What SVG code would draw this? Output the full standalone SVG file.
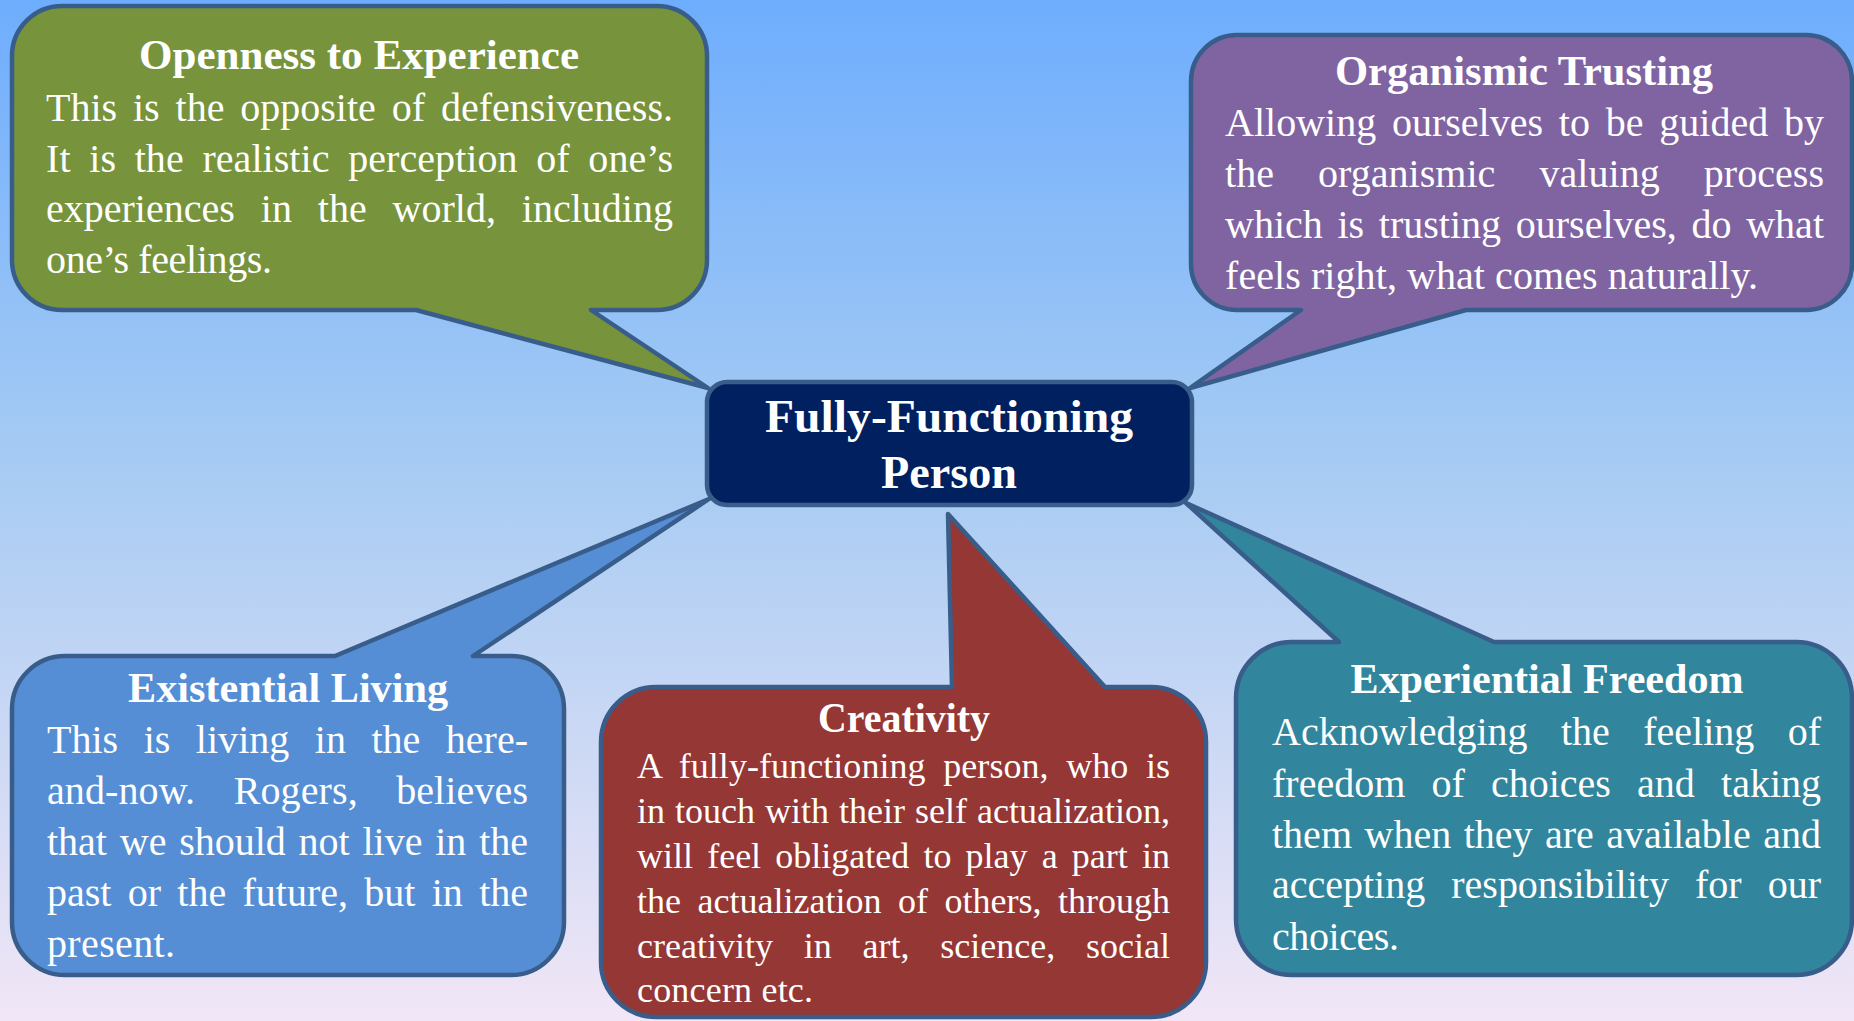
<svg xmlns="http://www.w3.org/2000/svg" width="1854" height="1021" viewBox="0 0 1854 1021">
  <defs>
    <linearGradient id="bg" x1="0" y1="0" x2="0" y2="1">
      <stop offset="0" stop-color="#6EADFD"/>
      <stop offset="0.45" stop-color="#A6CBF3"/>
      <stop offset="1" stop-color="#F1E6F6"/>
    </linearGradient>
  </defs>
  <style>
    .callout { stroke: #385D8A; stroke-width: 4.5; stroke-linejoin: round; }
    .title { font-family: "Liberation Serif", "Times New Roman", serif; font-weight: bold; font-size: 42px; fill: #FFFFFF; text-anchor: middle; }
    .body { font-family: "Liberation Serif", "Times New Roman", serif; font-size: 40px; fill: #FFFFFF; }
    .small { font-size: 36px; }
    .center { font-family: "Liberation Serif", "Times New Roman", serif; font-weight: bold; font-size: 47px; fill: #FFFFFF; text-anchor: middle; }
  </style>

  <rect x="0" y="0" width="1854" height="1021" fill="url(#bg)"/>

  <!-- speech-bubble callouts: each tail is part of the bubble outline and points at the central box -->
  <g id="openness">
    <path class="callout" fill="#77933C" d="M62,6 H657 A50,50 0 0 1 707,56 V260 A50,50 0 0 1 657,310 H591 L708,388 L416,310 H62 A50,50 0 0 1 12,260 V56 A50,50 0 0 1 62,6 Z"/>
    <text class="title" x="359" y="69" textLength="440" lengthAdjust="spacingAndGlyphs">Openness to Experience</text>
    <text class="body" x="46" y="121" style="word-spacing:5.9px" textLength="627">This is the opposite of defensiveness.</text>
    <text class="body" x="46" y="172" style="word-spacing:8.6px" textLength="627">It is the realistic perception of one’s</text>
    <text class="body" x="46" y="222" style="word-spacing:15.9px" textLength="627">experiences in the world, including</text>
    <text class="body" x="46" y="273" textLength="226">one’s feelings.</text>
  </g>

  <g id="organismic">
    <path class="callout" fill="#8064A2" d="M1237,35 H1806 A46,46 0 0 1 1852,81 V264 A46,46 0 0 1 1806,310 H1466 L1190,388 L1301,310 H1237 A46,46 0 0 1 1191,264 V81 A46,46 0 0 1 1237,35 Z"/>
    <text class="title" x="1524" y="85" textLength="378" lengthAdjust="spacingAndGlyphs">Organismic Trusting</text>
    <text class="body" x="1225" y="136" style="word-spacing:5.8px" textLength="599">Allowing ourselves to be guided by</text>
    <text class="body" x="1225" y="187" style="word-spacing:34.1px" textLength="599">the organismic valuing process</text>
    <text class="body" x="1225" y="238" style="word-spacing:4.7px" textLength="599">which is trusting ourselves, do what</text>
    <text class="body" x="1225" y="289" textLength="533">feels right, what comes naturally.</text>
  </g>

  <g id="existential">
    <path class="callout" fill="#558ED5" d="M65,656 H335 L709,499 L473,656 H511 A53,53 0 0 1 564,709 V922 A53,53 0 0 1 511,975 H65 A53,53 0 0 1 12,922 V709 A53,53 0 0 1 65,656 Z"/>
    <text class="title" x="288" y="702" textLength="320" lengthAdjust="spacingAndGlyphs">Existential Living</text>
    <text class="body" x="47" y="753" style="word-spacing:15.5px" textLength="481">This is living in the here-</text>
    <text class="body" x="47" y="804" style="word-spacing:28.3px" textLength="481">and-now. Rogers, believes</text>
    <text class="body" x="47" y="855" style="word-spacing:2.8px" textLength="481">that we should not live in the</text>
    <text class="body" x="47" y="906" style="word-spacing:6.3px" textLength="481">past or the future, but in the</text>
    <text class="body" x="47" y="957" textLength="128">present.</text>
  </g>

  <g id="creativity">
    <path class="callout" fill="#953735" d="M656,687 H952 L948,514 L1105,687 H1151 A55,55 0 0 1 1206,742 V962 A55,55 0 0 1 1151,1017 H656 A55,55 0 0 1 601,962 V742 A55,55 0 0 1 656,687 Z"/>
    <text class="title" x="904" y="732" textLength="172" lengthAdjust="spacingAndGlyphs">Creativity</text>
    <text class="body small" x="637" y="778" style="word-spacing:8.5px" textLength="533">A fully-functioning person, who is</text>
    <text class="body small" x="637" y="823" style="word-spacing:1px" textLength="533">in touch with their self actualization,</text>
    <text class="body small" x="637" y="868" style="word-spacing:5.2px" textLength="533">will feel obligated to play a part in</text>
    <text class="body small" x="637" y="913" style="word-spacing:7.5px" textLength="533">the actualization of others, through</text>
    <text class="body small" x="637" y="958" style="word-spacing:21.8px" textLength="533">creativity in art, science, social</text>
    <text class="body small" x="637" y="1002" textLength="176">concern etc.</text>
  </g>

  <g id="experiential">
    <path class="callout" fill="#31859C" d="M1292,642 H1339 L1186,503 L1494,642 H1796 A56,56 0 0 1 1852,698 V919 A56,56 0 0 1 1796,975 H1292 A56,56 0 0 1 1236,919 V698 A56,56 0 0 1 1292,642 Z"/>
    <text class="title" x="1547" y="693" textLength="393" lengthAdjust="spacingAndGlyphs">Experiential Freedom</text>
    <text class="body" x="1272" y="745" style="word-spacing:23.4px" textLength="549">Acknowledging the feeling of</text>
    <text class="body" x="1272" y="797" style="word-spacing:16.2px" textLength="549">freedom of choices and taking</text>
    <text class="body" x="1272" y="848" style="word-spacing:2.5px" textLength="549">them when they are available and</text>
    <text class="body" x="1272" y="898" style="word-spacing:16.1px" textLength="549">accepting responsibility for our</text>
    <text class="body" x="1272" y="950" textLength="127">choices.</text>
  </g>

  <!-- central node, drawn last so the tails tuck underneath it -->
  <g id="fully-functioning">
    <rect class="callout" x="707" y="382" width="485" height="123" rx="20" ry="20" fill="#002060"/>
    <text class="center" x="949" y="432" textLength="368" lengthAdjust="spacingAndGlyphs">Fully-Functioning</text>
    <text class="center" x="949" y="488" textLength="136" lengthAdjust="spacingAndGlyphs">Person</text>
  </g>
</svg>
